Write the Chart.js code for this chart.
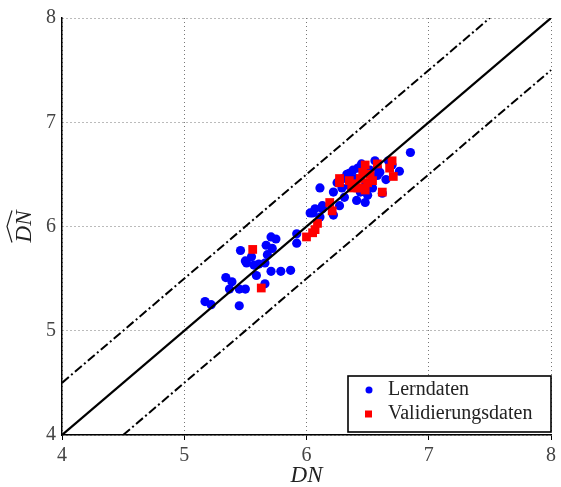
<!DOCTYPE html>
<html>
<head>
<meta charset="utf-8">
<script src="https://cdn.jsdelivr.net/npm/chart.js@4.4.1/dist/chart.umd.min.js"></script>
<style>
  html, body { margin: 0; padding: 0; background: #fff; }
  #wrap { width: 561px; height: 487px; }
</style>
</head>
<body>
<div id="wrap"><canvas id="chart" width="561" height="487"></canvas></div>
<script>
// Lerndaten (blue circles): DN and estimated DN
const learnX = [5.17, 5.22, 5.45, 5.34, 5.39, 5.37, 5.45, 5.50, 5.66, 5.59, 5.71, 5.79, 5.87,
  5.50, 5.51, 5.57, 5.61, 5.66, 5.55, 5.68, 5.46, 5.67, 5.72, 5.71, 5.75, 5.92, 5.92,
  6.11, 6.07, 6.05, 6.13, 6.27, 6.11, 6.22, 6.03, 6.13, 6.22,
  6.85, 6.76, 6.67, 6.58, 6.65, 6.58, 6.45, 6.38, 6.35, 6.30, 6.29, 6.31, 6.41, 6.48,
  6.50, 6.54, 6.62, 6.44, 6.40, 6.48, 6.52, 6.70, 6.35, 6.56, 6.42, 6.33, 6.60, 6.25];
const learnY = [5.28, 5.25, 5.24, 5.51, 5.47, 5.40, 5.40, 5.40, 5.45, 5.53, 5.57, 5.57, 5.58,
  5.67, 5.65, 5.63, 5.64, 5.65, 5.71, 5.73, 5.77, 5.82, 5.79, 5.90, 5.88, 5.93, 5.84,
  6.37, 6.17, 6.13, 6.20, 6.20, 6.09, 6.11, 6.13, 6.17, 6.33,
  6.71, 6.53, 6.63, 6.56, 6.45, 6.49, 6.60, 6.54, 6.51, 6.46, 6.37, 6.28, 6.25, 6.23,
  6.30, 6.37, 6.32, 6.33, 6.46, 6.39, 6.54, 6.59, 6.39, 6.63, 6.56, 6.50, 6.52, 6.42];

// Validierungsdaten (red squares)
const validX = [5.56, 5.63, 6.00, 6.05, 6.07, 6.09, 6.21, 6.19, 6.27, 6.58, 6.68, 6.71, 6.62,
  6.48, 6.46, 6.44, 6.35, 6.27, 6.37, 6.42, 6.50, 6.54, 6.40, 6.44, 6.70, 6.52, 6.48];
const validY = [5.78, 5.41, 5.90, 5.94, 5.97, 6.03, 6.15, 6.23, 6.42, 6.60, 6.56, 6.48, 6.33,
  6.59, 6.52, 6.46, 6.44, 6.46, 6.37, 6.37, 6.42, 6.44, 6.41, 6.37, 6.63, 6.50, 6.35];

// reference lines: ideal and +/- 0.5 band
const idealX = [4, 8];
const idealY = [4, 8];
const upperX = [4, 7.5];
const upperY = [4.5, 8];
const lowerX = [4.5, 8];
const lowerY = [4, 7.5];

const axisTicks = [4, 5, 6, 7, 8];
const legendOrder = ['Lerndaten', 'Validierungsdaten'];

const SERIF = "'Liberation Serif', 'DejaVu Serif', serif";
const toPoints = (xs, ys) => xs.map((x, i) => ({ x: x, y: ys[i] }));
const dashDot = [9, 3, 2, 3];

const lineSet = (label, xs, ys, dash) => ({
  type: 'line',
  label: label,
  data: toPoints(xs, ys),
  borderColor: '#000',
  borderWidth: dash ? 2 : 2.2,
  borderDash: dash || [],
  pointRadius: 0,
  fill: false,
  order: 0,
});

// axis titles, hat over y title, and legend box in the plot
const decorPlugin = {
  id: 'decor',
  afterDraw(chart) {
    const ctx = chart.ctx;
    const area = chart.chartArea;
    ctx.save();
    ctx.fillStyle = '#222';
    ctx.font = 'italic 23px ' + SERIF;
    ctx.textAlign = 'center';
    ctx.textBaseline = 'alphabetic';
    ctx.fillText('DN', (area.left + area.right) / 2, 482);

    // y title, rotated, with a wide hat
    ctx.translate(31, (area.top + area.bottom) / 2);
    ctx.rotate(-Math.PI / 2);
    ctx.fillText('DN', 0, 0);
    const w = ctx.measureText('DN').width;
    ctx.strokeStyle = '#222';
    ctx.lineWidth = 1.2;
    ctx.beginPath();
    ctx.moveTo(-w / 2, -19);
    ctx.lineTo(0, -24);
    ctx.lineTo(w / 2, -19);
    ctx.stroke();
    ctx.restore();

    // legend
    const bx = 348, by = 376, bw = 203, bh = 56;
    ctx.save();
    ctx.fillStyle = '#fff';
    ctx.fillRect(bx, by, bw, bh);
    ctx.strokeStyle = '#000';
    ctx.lineWidth = 1.6;
    ctx.strokeRect(bx, by, bw, bh);
    ctx.font = '20px ' + SERIF;
    ctx.textAlign = 'left';
    ctx.textBaseline = 'middle';
    legendOrder.forEach((name, i) => {
      const d = chart.data.datasets.find(ds => ds.label === name);
      const cy = by + 14 + i * 24;
      ctx.fillStyle = d.backgroundColor;
      if (d.pointStyle === 'rect') {
        ctx.fillRect(bx + 17, cy - 3.5, 7, 7);
      } else {
        ctx.beginPath();
        ctx.arc(bx + 21, cy, 3.5, 0, Math.PI * 2);
        ctx.fill();
      }
      ctx.fillStyle = '#222';
      ctx.fillText(d.label, bx + 40, cy);
    });
    ctx.restore();
  },
};

new Chart(document.getElementById('chart'), {
  data: {
    datasets: [
      lineSet('ideal', idealX, idealY, null),
      lineSet('upper', upperX, upperY, dashDot),
      lineSet('lower', lowerX, lowerY, dashDot),
      {
        type: 'scatter',
        label: 'Validierungsdaten',
        data: toPoints(validX, validY),
        backgroundColor: '#ff0000',
        borderWidth: 0,
        pointStyle: 'rect',
        pointRadius: 6.2,
        order: 1,
      },
      {
        type: 'scatter',
        label: 'Lerndaten',
        data: toPoints(learnX, learnY),
        backgroundColor: '#0000ff',
        borderWidth: 0,
        pointStyle: 'circle',
        pointRadius: 4.6,
        order: 2,
      },
    ],
  },
  options: {
    responsive: false,
    animation: false,
    layout: { padding: { top: 17, right: 10, left: 0, bottom: 0 } },
    plugins: {
      legend: { display: false },
      tooltip: { enabled: false },
    },
    scales: {
      x: {
        type: 'linear',
        min: 4,
        max: 8,
        afterFit: (s) => { s.height = 52; },
        afterBuildTicks: (s) => { s.ticks = axisTicks.map(v => ({ value: v })); },
        ticks: { font: { family: SERIF, size: 20 }, color: '#444', padding: 4 },
        grid: {
          color: '#777',
          lineWidth: 1,
          tickLength: 5,
          drawTicks: true,
          tickColor: '#000',
          tickBorderDash: [],
        },
        border: { display: true, color: '#000', width: 1.5, dash: [1, 3] },
      },
      y: {
        type: 'linear',
        min: 4,
        max: 8,
        afterFit: (s) => { s.width = 62; },
        afterBuildTicks: (s) => { s.ticks = axisTicks.map(v => ({ value: v })); },
        ticks: { font: { family: SERIF, size: 20 }, color: '#444', padding: 6 },
        grid: { color: '#777', lineWidth: 1, drawTicks: false },
        border: { display: true, color: '#000', width: 1.5, dash: [1, 3] },
      },
    },
  },
  plugins: [decorPlugin],
});
</script>
</body>
</html>
